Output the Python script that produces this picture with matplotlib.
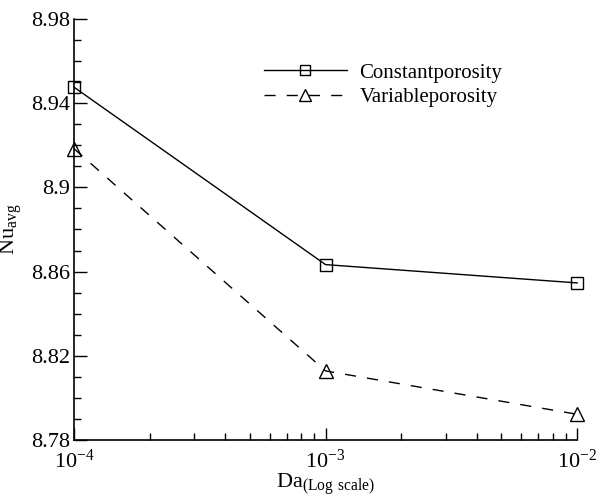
import numpy as np
import matplotlib.pyplot as plt
from matplotlib.ticker import MultipleLocator, FixedLocator, LogLocator, NullFormatter

plt.rcParams['font.family'] = 'serif'
plt.rcParams['font.serif'] = ['Liberation Serif', 'DejaVu Serif']
plt.rcParams['mathtext.fontset'] = 'custom'
plt.rcParams['mathtext.rm'] = 'Liberation Serif'
plt.rcParams['axes.unicode_minus'] = False

# data
da = [1e-4, 1e-3, 1e-2]
nu_constant = [8.9476, 8.8633, 8.8546]
nu_variable = [8.9184, 8.8128, 8.7922]
yticks = [8.78, 8.82, 8.86, 8.9, 8.94, 8.98]
ytick_labels = ['8.78', '8.82', '8.86', '8.9', '8.94', '8.98']

fig = plt.figure(figsize=(6.16, 4.98), dpi=100, facecolor='white')
ax = fig.add_axes([0.120, 0.1165, 0.817, 0.8455])

ax.plot(da, nu_constant, color='black', linewidth=1.0, marker='s', markersize=9,
        markerfacecolor='none', markeredgecolor='black', markeredgewidth=1.0,
        label='Constantporosity', clip_on=False)
ax.plot(da, nu_variable, color='black', linewidth=1.0, linestyle=(0, (8, 8)),
        marker='^', markersize=10, markerfacecolor='none', markeredgecolor='black',
        markeredgewidth=1.0, label='Variableporosity', clip_on=False)

ax.set_xscale('log')
ax.set_xlim(1e-4, 1e-2)
ax.set_ylim(8.78, 8.98)

ax.yaxis.set_major_locator(FixedLocator(yticks))
ax.set_yticklabels(ytick_labels)
ax.yaxis.set_minor_locator(MultipleLocator(0.01))
ax.xaxis.set_major_locator(LogLocator(base=10, numticks=10))
ax.xaxis.set_minor_locator(LogLocator(base=10, subs=np.arange(2, 10), numticks=20))
ax.xaxis.set_minor_formatter(NullFormatter())

ax.tick_params(axis='both', which='major', direction='in', length=9, width=1.0,
               labelsize=16, colors='black')
ax.tick_params(axis='y', which='major', pad=3)
ax.tick_params(axis='x', which='major', pad=7)
ax.tick_params(axis='both', which='minor', direction='in', length=5, width=1.0)

ax.spines['top'].set_visible(False)
ax.spines['right'].set_visible(False)
ax.spines['left'].set_linewidth(1.2)
ax.spines['bottom'].set_linewidth(1.2)

ax.set_xlabel(r'Da$_{\mathrm{(Log\ scale)}}$', fontsize=16, labelpad=-1)
ax.set_ylabel(r'Nu$_{\mathrm{avg}}$', fontsize=16, labelpad=4)

ax.legend(loc='upper left', bbox_to_anchor=(0.34, 0.94), frameon=False,
          fontsize=15, handlelength=4.0, handletextpad=0.6, labelspacing=0.25,
          markerscale=0.8)

plt.savefig('out.png', dpi=100, facecolor='white')
